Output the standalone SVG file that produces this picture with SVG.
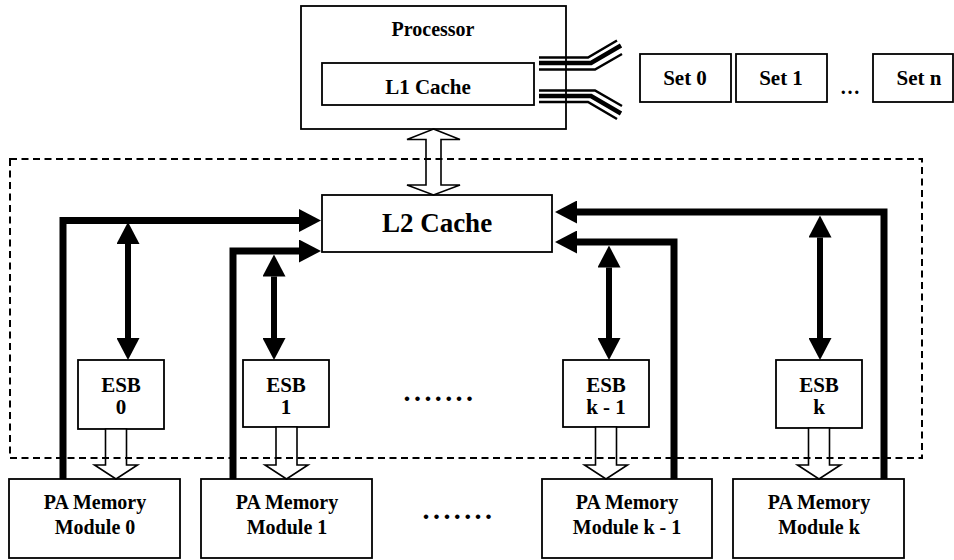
<svg xmlns="http://www.w3.org/2000/svg" width="954" height="560" viewBox="0 0 954 560">
<style>
  .box { fill: #fff; stroke: #000; stroke-width: 1.8; }
  .t { font-family: "Liberation Serif", "Times New Roman", serif; font-weight: bold; fill: #000; text-anchor: middle; }
  .bus { fill: none; stroke: #000; stroke-width: 7; stroke-linejoin: miter; stroke-linecap: butt; }
  .dbl { fill: none; stroke: #000; stroke-width: 6; }
  .open { fill: #fff; stroke: #000; stroke-width: 1.6; stroke-linejoin: miter; }
  .rib { fill: none; stroke: #000; stroke-linejoin: miter; }
  .dash { fill: none; stroke: #000; stroke-width: 2; stroke-dasharray: 7 4.5; }
</style>
<defs>
  <marker id="ah" markerUnits="userSpaceOnUse" markerWidth="22" markerHeight="23" refX="0" refY="11.5" orient="auto-start-reverse" viewBox="0 0 22 23">
    <path d="M0,0 L22,11.5 L0,23 Z" fill="#000"/>
  </marker>
</defs>

<g id="processor">
  <rect class="box" x="301" y="6" width="265" height="123"/>
  <text class="t" x="433" y="36" font-size="20">Processor</text>
</g>
<g id="l1cache">
  <rect class="box" x="322" y="63" width="212" height="42" stroke-width="2.4"/>
  <text class="t" x="428" y="94" font-size="21">L1 Cache</text>
</g>
<g id="set0">
  <rect class="box" x="640" y="54" width="91" height="48"/>
  <text class="t" x="685" y="85" font-size="21">Set 0</text>
</g>
<g id="set1">
  <rect class="box" x="736" y="54" width="91" height="48"/>
  <text class="t" x="781" y="85" font-size="21">Set 1</text>
</g>
<text class="t" x="850" y="94" font-size="20">…</text>
<g id="setn">
  <rect class="box" x="873" y="54" width="80" height="48"/>
  <text class="t" x="919" y="85" font-size="21">Set n</text>
</g>

<g id="l2cache">
  <rect class="box" x="322" y="195" width="230" height="57"/>
  <text class="t" x="437" y="232" font-size="27">L2 Cache</text>
</g>

<g id="esb0">
  <rect class="box" x="78" y="360" width="86" height="69"/>
  <text class="t" x="121" y="392" font-size="21">ESB</text>
  <text class="t" x="121" y="414" font-size="21">0</text>
</g>
<g id="esb1">
  <rect class="box" x="243" y="360" width="86" height="67"/>
  <text class="t" x="286" y="392" font-size="21">ESB</text>
  <text class="t" x="286" y="414" font-size="21">1</text>
</g>
<text class="t" x="440" y="401" font-size="28" letter-spacing="3.4">.......</text>
<g id="esbk1">
  <rect class="box" x="563" y="360" width="86" height="67"/>
  <text class="t" x="606" y="392" font-size="21">ESB</text>
  <text class="t" x="606" y="414" font-size="21">k - 1</text>
</g>
<g id="esbk">
  <rect class="box" x="776" y="360" width="86" height="68"/>
  <text class="t" x="819" y="392" font-size="21">ESB</text>
  <text class="t" x="819" y="414" font-size="21">k</text>
</g>

<g id="pa0">
  <rect class="box" x="9" y="479" width="171" height="79"/>
  <text class="t" x="95" y="509" font-size="20">PA Memory</text>
  <text class="t" x="95" y="534" font-size="20">Module 0</text>
</g>
<g id="pa1">
  <rect class="box" x="201" y="479" width="171" height="79"/>
  <text class="t" x="287" y="509" font-size="20">PA Memory</text>
  <text class="t" x="287" y="534" font-size="20">Module 1</text>
</g>
<text class="t" x="459" y="519" font-size="28" letter-spacing="3.4">.......</text>
<g id="pak1">
  <rect class="box" x="542" y="479" width="170" height="79"/>
  <text class="t" x="627" y="509" font-size="20">PA Memory</text>
  <text class="t" x="627" y="534" font-size="20">Module k - 1</text>
</g>
<g id="pak">
  <rect class="box" x="733" y="479" width="171" height="79"/>
  <text class="t" x="819" y="509" font-size="20">PA Memory</text>
  <text class="t" x="819" y="534" font-size="20">Module k</text>
</g>

<g id="connectors">
  <!-- ribbon cables from processor to sets -->
  <polyline class="rib" stroke-width="2.5" points="539,57.5 588,57.5 617,40.5"/>
  <polyline class="rib" stroke-width="4.5" points="539,63 591,63 621,45.5"/>
  <polyline class="rib" stroke-width="2.5" points="539,69.5 595,69.5 622,54"/>
  <polyline class="rib" stroke-width="2.5" points="539,90.5 595,90.5 622,106"/>
  <polyline class="rib" stroke-width="4.5" points="539,96 591,96 621,113.5"/>
  <polyline class="rib" stroke-width="2.5" points="539,102 588,102 617,119"/>

  <!-- processor <-> L2 open double arrow -->
  <polygon class="open" points="433.5,129 460,139.5 441,139.5 441,185 460,185 433.5,195 407,185 426,185 426,139.5 407,139.5"/>

  <!-- ESB -> PA open arrows -->
  <polygon class="open" points="105.5,429 105.5,465 94.5,465 116,479 137.5,465 126.5,465 126.5,429"/>
  <polygon class="open" points="276,427 276,465 265,465 286.5,479 308,465 297,465 297,427"/>
  <polygon class="open" points="595.5,427 595.5,465 584.5,465 606,479 627.5,465 616.5,465 616.5,427"/>
  <polygon class="open" points="808.5,428 808.5,465 797.5,465 819,479 840.5,465 829.5,465 829.5,428"/>

  <!-- dashed boundary -->
  <rect class="dash" x="10" y="159" width="912" height="299"/>

  <!-- thick buses to L2 -->
  <path class="bus" d="M63,479 V220.5 H299" marker-end="url(#ah)"/>
  <path class="bus" d="M233,479 V251 H299" marker-end="url(#ah)"/>
  <path class="bus" d="M884,479 V212 H577" marker-end="url(#ah)"/>
  <path class="bus" d="M674,479 V242 H577" marker-end="url(#ah)"/>

  <!-- ESB <-> bus double arrows -->
  <line class="dbl" x1="128" y1="244" x2="128" y2="338" marker-start="url(#ah)" marker-end="url(#ah)"/>
  <line class="dbl" x1="274" y1="276.5" x2="274" y2="338" marker-start="url(#ah)" marker-end="url(#ah)"/>
  <line class="dbl" x1="609" y1="267.5" x2="609" y2="338" marker-start="url(#ah)" marker-end="url(#ah)"/>
  <line class="dbl" x1="820" y1="237.5" x2="820" y2="338" marker-start="url(#ah)" marker-end="url(#ah)"/>
</g>
</svg>
